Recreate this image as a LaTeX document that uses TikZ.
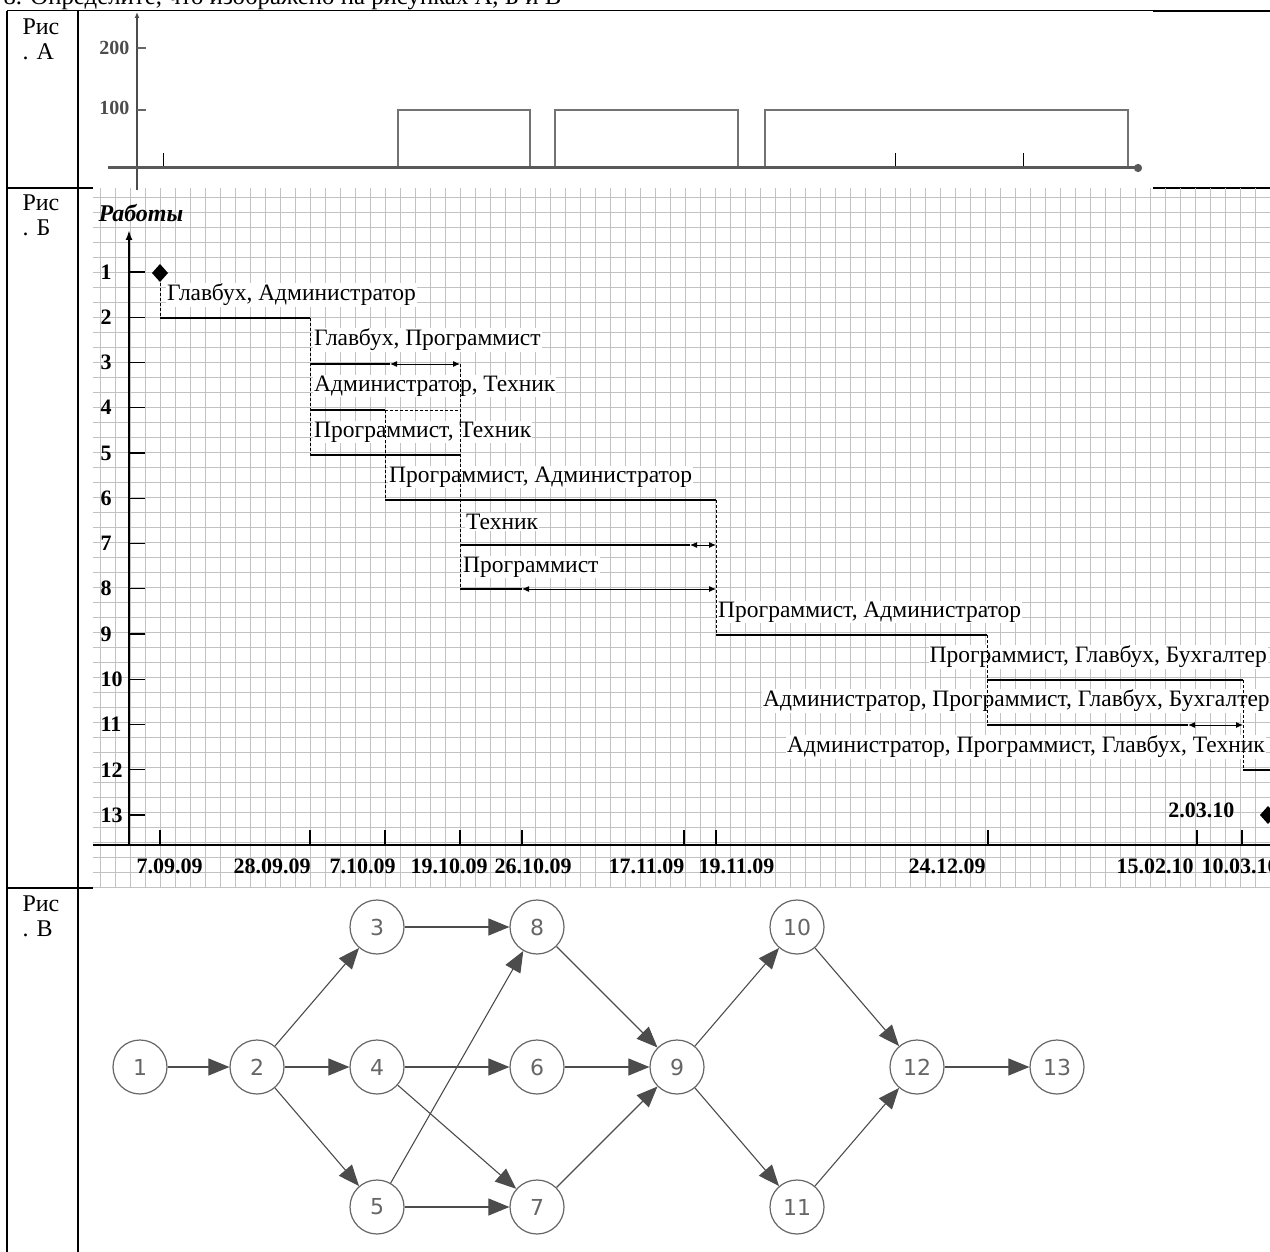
\documentclass[tikz,border=0pt]{standalone}
\usepackage{fontspec}
\setmainfont{Liberation Serif}
\newfontfamily\numfont{DejaVu Sans}
\usetikzlibrary{arrows.meta}

\tikzset{
	tableline/.style={line width=1.6pt},
	gridline/.style={line width=0.7pt, color=black!24},
	axisline/.style={line width=2.2pt},
	workbar/.style={line width=2.4pt},
	slackline/.style={line width=1pt, {Latex[length=7pt,width=6pt]}-{Latex[length=7pt,width=6pt]}},
	linkline/.style={line width=0.9pt, dash pattern=on 3pt off 2pt},
	worklabel/.style={fill=white, inner sep=1pt, anchor=west, font=\fontsize{23.5}{23.5}\selectfont},
	datelabel/.style={anchor=west, font=\bfseries\fontsize{22}{22}\selectfont},
	cellname/.style={anchor=base west, font=\fontsize{24}{24}\selectfont},
	event/.style={circle, draw=black!60, line width=1.2pt, minimum size=54pt, inner sep=0pt, font=\numfont\fontsize{22}{22}\selectfont, text=black!60},
	flow/.style={line width=1.1pt, draw=black!70, -{Triangle[length=21pt,width=17pt]}},
}

\begin{document}
\begin{tikzpicture}[x=1pt, y=-1pt]
	\useasboundingbox (0,0) rectangle (1270,1252);
	
	%%%%% TABLE %%%%%
	\node[cellname, font=\fontsize{24.8}{24.8}\selectfont] (task) at (0,5) {8. Определите, что изображено на рисунках А, Б и В};
	\draw[line width=1pt] (7,11) -- (1153,11);
	\draw[line width=2.5pt] (1153,11) -- (1270,11);
	\draw[tableline] (7,11) -- (7,1252);
	\draw[tableline] (78,11) -- (78,1252);
	\draw[tableline] (7,188) -- (93,188);
	\draw[line width=2.5pt] (1153,188) -- (1270,188);
	\draw[tableline] (7,888) -- (93,888);
	
	\node[cellname] (ra1) at (19,35) {Рис};
	\node[cellname] (ra2) at (19,60) {. А};
	\node[cellname] (rb1) at (19,211) {Рис};
	\node[cellname] (rb2) at (19,236) {. Б};
	\node[cellname] (rc1) at (19,911) {Рис};
	\node[cellname] (rc2) at (19,936) {. В};
	
	%%%%% FIG A %%%%%
	\draw[line width=1.5pt, color=black!70, -{Latex[length=6pt,width=5pt]}] (137,190) -- (137,12);
	\draw[line width=1.2pt, color=black!60] (137,48) -- (146,48);
	\draw[line width=1.2pt, color=black!60] (137,110) -- (146,110);
	\node[anchor=east, font=\bfseries\fontsize{20}{20}\selectfont, text=black!70] (l200) at (133,48) {200};
	\node[anchor=east, font=\bfseries\fontsize{20}{20}\selectfont, text=black!70] (l100) at (133,108) {100};
	
	\draw[line width=1.6pt, color=black!55] (398,168) -- (398,110) -- (530,110) -- (530,168);
	\draw[line width=1.6pt, color=black!55] (555,168) -- (555,110) -- (738,110) -- (738,168);
	\draw[line width=1.6pt, color=black!55] (765,168) -- (765,110) -- (1128,110) -- (1128,168);
	
	\draw[line width=1pt] (163,153) -- (163,168);
	\draw[line width=1pt] (895,153) -- (895,168);
	\draw[line width=1pt] (1023,153) -- (1023,168);
	\draw[line width=3pt, color=black!65, -{Circle[length=8pt]}] (108,168) -- (1142,168);
	
	%%%%% FIG B %%%%%
	\begin{scope}[shift={(10,2)}]
		\draw[gridline, step=15pt] (83,186) grid (1260,886);
	\end{scope}
	
	\node[anchor=west, font=\bfseries\itshape\fontsize{24}{24}\selectfont] (works) at (95,213) {Работы};
	\draw[axisline, -{Latex[length=10pt,width=7pt]}] (129,845) -- (129,230);
	\draw[axisline] (93,845) -- (1270,845);
	
	\foreach \r [evaluate=\r as \ry using 272+45.25*(\r-1)] in {1,...,13} {
		\draw[line width=1.2pt] (129,\ry) -- (145,\ry);
		\node[anchor=west, font=\bfseries\fontsize{22}{22}\selectfont] at (97,\ry) {\r};
	}
	
	\draw[line width=1.2pt] (160,830) -- (160,845);
	\draw[line width=1.2pt] (310,830) -- (310,845);
	\draw[line width=1.2pt] (385,830) -- (385,845);
	\draw[line width=1.2pt] (460,830) -- (460,845);
	\draw[line width=1.2pt] (522,830) -- (522,845);
	\draw[line width=1.2pt] (684,830) -- (684,845);
	\draw[line width=1.2pt] (716,830) -- (716,845);
	\draw[line width=1.2pt] (988,830) -- (988,845);
	\draw[line width=1.2pt] (1197,830) -- (1197,845);
	\draw[line width=1.2pt] (1242,830) -- (1242,845);
	
	\node[datelabel] (d1) at (133,866) {7.09.09};
	\node[datelabel] (d2) at (230,866) {28.09.09};
	\node[datelabel] (d3) at (326,866) {7.10.09};
	\node[datelabel] (d4) at (407,866) {19.10.09};
	\node[datelabel] (d5) at (491,866) {26.10.09};
	\node[datelabel] (d6) at (605,866) {17.11.09};
	\node[datelabel] (d7) at (695,866) {19.11.09};
	\node[datelabel] (d8) at (905,866) {24.12.09};
	\node[datelabel] (d9) at (1113,866) {15.02.10};
	\node[datelabel] (d10) at (1198,866) {10.03.10};
	\node[datelabel, anchor=east] (d11) at (1238,810) {2.03.10};
	
	\node[worklabel] (w1) at (166,295) {Главбух, Администратор};
	\node[worklabel] (w2) at (313,340) {Главбух, Программист};
	\node[worklabel] (w3) at (313,386) {Администратор, Техник};
	\node[worklabel] (w4) at (313,432) {Программист, Техник};
	\node[worklabel] (w5) at (388,477) {Программист, Администратор};
	\node[worklabel] (w6) at (465,522) {Техник};
	\node[worklabel] (w7) at (462,567) {Программист};
	\node[worklabel] (w8) at (717,612) {Программист, Администратор};
	\node[worklabel, anchor=east] (w9) at (1268,657) {Программист, Главбух, Бухгалтер};
	\node[worklabel] (w10) at (762,701) {Администратор, Программист, Главбух, Бухгалтер};
	\node[worklabel, anchor=east] (w11) at (1266,747) {Администратор, Программист, Главбух, Техник};
	
	\fill (160,264) -- (168,273) -- (160,282) -- (152,273) -- cycle;
	\fill (1268,806) -- (1276,815) -- (1268,824) -- (1260,815) -- cycle;
	
	\draw[linkline] (160,273) -- (160,318);
	\draw[linkline] (310,318) -- (310,455);
	\draw[linkline] (385,410) -- (385,500);
	\draw[linkline] (460,364) -- (460,589);
	\draw[linkline] (385,410) -- (460,410);
	\draw[linkline] (716,500) -- (716,635);
	\draw[linkline] (987,635) -- (987,725);
	\draw[linkline] (1243,680) -- (1243,770);
	
	\draw[workbar] (160,318) -- (310,318);
	\draw[workbar] (310,364) -- (390,364);
	\draw[slackline] (390,364) -- (460,364);
	\draw[workbar] (310,410) -- (385,410);
	\draw[workbar] (310,455) -- (460,455);
	\draw[workbar] (385,500) -- (716,500);
	\draw[workbar] (460,545) -- (690,545);
	\draw[slackline] (690,545) -- (716,545);
	\draw[workbar] (460,589) -- (522,589);
	\draw[slackline] (522,589) -- (716,589);
	\draw[workbar] (716,635) -- (987,635);
	\draw[workbar] (987,680) -- (1243,680);
	\draw[workbar] (987,725) -- (1188,725);
	\draw[slackline] (1188,725) -- (1243,725);
	\draw[workbar] (1243,770) -- (1272,770);
	
	%%%%% FIG V %%%%%
	\node[event] (n1) at (140,1067) {1};
	\node[event] (n2) at (257,1067) {2};
	\node[event] (n3) at (377,927) {3};
	\node[event] (n4) at (377,1067) {4};
	\node[event] (n5) at (377,1207) {5};
	\node[event] (n6) at (537,1067) {6};
	\node[event] (n7) at (537,1207) {7};
	\node[event] (n8) at (537,927) {8};
	\node[event] (n9) at (677,1067) {9};
	\node[event] (n10) at (797,927) {10};
	\node[event] (n11) at (797,1207) {11};
	\node[event] (n12) at (917,1067) {12};
	\node[event] (n13) at (1057,1067) {13};
	
	\draw[flow] (n1) -- (n2);
	\draw[flow] (n2) -- (n3);
	\draw[flow] (n2) -- (n4);
	\draw[flow] (n2) -- (n5);
	\draw[flow] (n3) -- (n8);
	\draw[flow] (n4) -- (n6);
	\draw[flow] (n4) -- (n7);
	\draw[flow] (n5) -- (n8);
	\draw[flow] (n5) -- (n7);
	\draw[flow] (n8) -- (n9);
	\draw[flow] (n6) -- (n9);
	\draw[flow] (n7) -- (n9);
	\draw[flow] (n9) -- (n10);
	\draw[flow] (n9) -- (n11);
	\draw[flow] (n10) -- (n12);
	\draw[flow] (n11) -- (n12);
	\draw[flow] (n12) -- (n13);
\end{tikzpicture}
\end{document}
